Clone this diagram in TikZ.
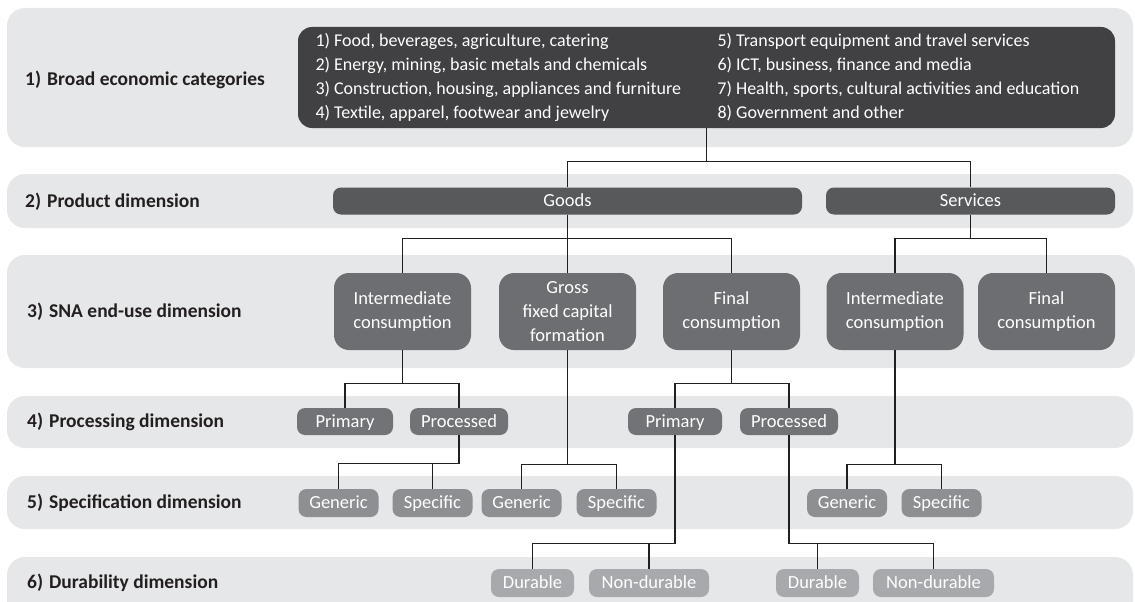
\documentclass[tikz,border=0pt]{standalone}
\usepackage{fontspec}
\setmainfont{Carlito}
\definecolor{bandgray}{HTML}{E6E7E8}
\definecolor{ink}{HTML}{231F20}
\definecolor{catgray}{HTML}{414042}
\definecolor{prodgray}{HTML}{58595B}
\definecolor{usegray}{HTML}{6D6E71}
\definecolor{procgray}{HTML}{727376}
\definecolor{specgray}{HTML}{8E8F92}
\definecolor{durgray}{HTML}{A7A9AC}
\usetikzlibrary{calc, positioning}
\newcommand{\dimtag}[2]{#1\hspace{6pt}#2}

\begin{document}
\begin{tikzpicture}[
  x=1pt, y=-1pt,
  band/.style={fill=bandgray, rounded corners=18pt},
  dimlabel/.style={anchor=west, inner sep=0pt, text=ink,
                   font=\fontsize{19.5}{23}\selectfont\bfseries},
  pill/.style={rounded corners=8pt, text=white, inner sep=0pt,
               minimum height=27pt, align=center,
               font=\fontsize{18.5}{24}\selectfont},
  oneline/.style={pill, text height=11.5pt, text depth=0.5pt},
  catbox/.style={pill, fill=catgray, rounded corners=14pt,
                 font=\fontsize{18}{24}\selectfont,
                 minimum width=817pt, minimum height=101pt},
  prod/.style={oneline, fill=prodgray},
  enduse/.style={pill, fill=usegray, rounded corners=15pt,
                 minimum width=137pt, minimum height=77pt},
  proc/.style={oneline, fill=procgray},
  spec/.style={oneline, fill=specgray, minimum width=80pt, minimum height=28pt},
  dur/.style={oneline, fill=durgray, minimum height=28pt},
  wire/.style={draw=ink, line width=1.2pt},
]
\useasboundingbox (0,0) rectangle (1135,602);
\clip (0,0) rectangle (1135,602);

\fill[band] (7,8) rectangle (1133,147);
\fill[band] (7,174) rectangle (1133,228);
\fill[band] (7,255) rectangle (1135,368);
\fill[band] (7,396) rectangle (1133,448);
\fill[band] (7,476) rectangle (1133,529);
\fill[band] (7,557) rectangle (1133,640);

\node[dimlabel] (l1) at (25,80) {\dimtag{1)}{Broad economic categories}};
\node[dimlabel] (l2) at (25,202) {\dimtag{2)}{Product dimension}};
\node[dimlabel] (l3) at (27,312) {\dimtag{3)}{SNA end-use dimension}};
\node[dimlabel] (l4) at (27,422) {\dimtag{4)}{Processing dimension}};
\node[dimlabel] (l5) at (27,503) {\dimtag{5)}{Specification dimension}};
\node[dimlabel] (l6) at (27,583) {\dimtag{6)}{Durability dimension}};

\node[catbox] (cat) at (706.5,77.5) {%
  \begin{tabular}{@{}p{402pt}@{}p{380pt}@{}}
  1) Food, beverages, agriculture, catering & 5) Transport equipment and travel services\\
  2) Energy, mining, basic metals and chemicals & 6) ICT, business, finance and media\\
  3) Construction, housing, appliances and furniture & 7) Health, sports, cultural activities and education\\
  4) Textile, apparel, footwear and jewelry & 8) Government and other
  \end{tabular}};

\node[prod, minimum width=469pt] (goods) at (567.5,201) {Goods};
\node[prod, minimum width=289pt] (serv) at (970.5,201) {Services};

\node[enduse] (interg) at (402.5,311.5) {Intermediate\\consumption};
\node[enduse] (gfcf) at (567.5,311.5) {Gross\\fixed capital\\formation};
\node[enduse] (finalg) at (731.5,311.5) {Final\\consumption};
\node[enduse] (inters) at (895,311.5) {Intermediate\\consumption};
\node[enduse] (finals) at (1046.5,311.5) {Final\\consumption};

\node[proc, minimum width=96pt] (primg) at (345,421.5) {Primary};
\node[proc, minimum width=98pt] (procg) at (459,421.5) {Processed};
\node[proc, minimum width=94pt] (primf) at (675,421.5) {Primary};
\node[proc, minimum width=98pt] (procf) at (789,421.5) {Processed};

\node[spec] (geni) at (338.5,503) {Generic};
\node[spec] (speci) at (432.5,503) {Specific};
\node[spec] (geng) at (521.5,503) {Generic};
\node[spec] (specg) at (616.5,503) {Specific};
\node[spec] (gens) at (847,503) {Generic};
\node[spec] (specs) at (941.5,503) {Specific};

\node[dur, minimum width=83pt] (durp) at (532.5,583) {Durable};
\node[dur, minimum width=120pt] (ndurp) at (649,583) {Non-durable};
\node[dur, minimum width=83pt] (durq) at (817.5,583) {Durable};
\node[dur, minimum width=121pt] (ndurq) at (933.5,583) {Non-durable};

\draw[wire] (cat.south) -- ++(0,33) coordinate (catj);
\draw[wire] (goods.north) |- (catj) -| (serv.north);
\draw[wire] (goods.south) -- ++(0,24) coordinate (goodsj) -- (gfcf.north);
\draw[wire] (interg.north) |- (goodsj) -| (finalg.north);
\draw[wire] (serv.south) -- ++(0,24) coordinate (servj);
\draw[wire] (inters.north) |- (servj) -| (finals.north);

\draw[wire] (interg.south) -- ++(0,33) coordinate (intergj);
\draw[wire] (primg.north) |- (intergj) -| (procg.north);
\draw[wire] (finalg.south) -- ++(0,33) coordinate (finalgj);
\draw[wire] (primf.north) |- (finalgj) -| (procf.north);

\draw[wire] (procg.south) -- ++(0,28) coordinate (procgj) -| (geni.north);
\draw[wire] (speci.north) -- (speci.north |- procgj);
\draw[wire] (gfcf.south) -- ++(0,114) coordinate (gfcfj);
\draw[wire] (geng.north) |- (gfcfj) -| (specg.north);
\draw[wire] (inters.south) -- ++(0,114) coordinate (intersj);
\draw[wire] (gens.north) |- (intersj) -| (specs.north);

\draw[wire] (primf.south) -- ++(0,108) coordinate (primfj) -| (durp.north);
\draw[wire] (ndurp.north) -- (ndurp.north |- primfj);
\draw[wire] (procf.south) -- ++(0,108) coordinate (procfj) -| (ndurq.north);
\draw[wire] (durq.north) -- (durq.north |- procfj);
\end{tikzpicture}
\end{document}
